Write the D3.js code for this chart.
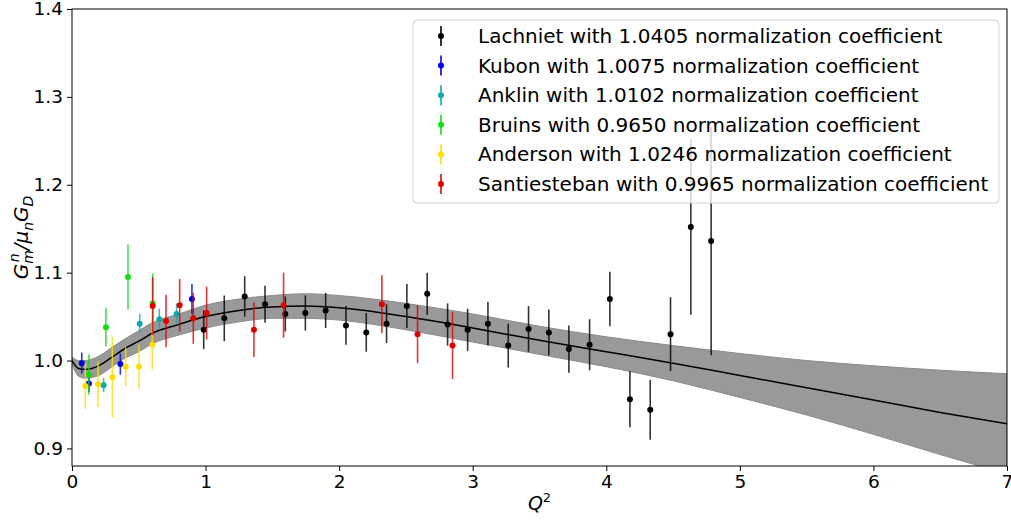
<!DOCTYPE html>
<html lang="en">
<head>
<meta charset="UTF-8">
<title>Gmn / mu_n G_D vs Q2</title>
<script src="https://d3js.org/d3.v7.min.js"></script>
<style>
  body { margin: 0; background: #fff; font-family: "DejaVu Sans", sans-serif; }
  svg text { font-family: "DejaVu Sans", sans-serif; }
</style>
</head>
<body>
<div id="chart"></div>
<script>
// --- data ---
const lachQ = [0.986, 1.14, 1.293, 1.445, 1.597, 1.747, 1.899, 2.051, 2.203, 2.355, 2.507, 2.659, 2.812,
               2.962, 3.114, 3.266, 3.418, 3.570, 3.720, 3.875, 4.027, 4.177, 4.329, 4.481, 4.633, 4.785];
const lachV = [1.035, 1.048, 1.073, 1.064, 1.053, 1.054, 1.057, 1.040, 1.032, 1.042, 1.062, 1.076, 1.041,
               1.035, 1.042, 1.017, 1.036, 1.032, 1.013, 1.018, 1.070, 0.956, 0.944, 1.030, 1.152, 1.136];
const lachE = [0.022, 0.026, 0.023, 0.021, 0.020, 0.020, 0.020, 0.022, 0.022, 0.022, 0.025, 0.024, 0.024,
               0.024, 0.025, 0.025, 0.026, 0.026, 0.027, 0.029, 0.031, 0.032, 0.034, 0.042, 0.100, 0.130];

const kubQ = [0.073, 0.127, 0.362, 0.898];
const kubV = [0.997, 0.974, 0.996, 1.070];
const kubE = [0.012, 0.010, 0.012, 0.017];

const ankQ = [0.237, 0.507, 0.654, 0.783];
const ankV = [0.972, 1.042, 1.047, 1.053];
const ankE = [0.008, 0.011, 0.012, 0.012];

const bruQ = [0.127, 0.254, 0.419, 0.604];
const bruV = [0.984, 1.038, 1.095, 1.065];
const bruE = [0.023, 0.022, 0.037, 0.034];

const andQ = [0.100, 0.195, 0.302, 0.402, 0.502, 0.601];
const andV = [0.971, 0.973, 0.981, 0.993, 0.993, 1.018];
const andE = [0.026, 0.026, 0.046, 0.022, 0.025, 0.028];

const sanQ = [0.604, 0.704, 0.806, 0.908, 1.008, 1.362, 1.584, 2.320, 2.587, 2.849];
const sanV = [1.062, 1.045, 1.063, 1.048, 1.054, 1.035, 1.063, 1.064, 1.030, 1.017];
const sanE = [0.033, 0.030, 0.030, 0.029, 0.030, 0.031, 0.037, 0.033, 0.033, 0.038];

// fitted curve and its band half-width
const fitQ = [0, 0.05, 0.1, 0.2, 0.3, 0.4, 0.5, 0.6, 0.8, 1.0, 1.25, 1.5, 1.75, 2.0, 2.5, 3.0, 3.5, 4.0, 4.5, 5.0, 5.5, 6.0, 6.5, 7.0];
const fitV = [1.000, 0.991, 0.990, 0.994, 1.004, 1.014, 1.022, 1.031, 1.041, 1.050, 1.057, 1.061, 1.062, 1.060,
              1.050, 1.037, 1.023, 1.010, 0.997, 0.983, 0.969, 0.955, 0.941, 0.928];
const fitE = [0.004, 0.009, 0.010, 0.011, 0.011, 0.011, 0.012, 0.012, 0.012, 0.013, 0.013, 0.013, 0.014, 0.014,
              0.015, 0.016, 0.016, 0.017, 0.020, 0.025, 0.031, 0.039, 0.048, 0.057];

const xTicks = [0, 1, 2, 3, 4, 5, 6, 7];
const yTicks = [0.9, 1.0, 1.1, 1.2, 1.3, 1.4];

const series = [
  { name: "Lachniet with 1.0405 normalization coefficient", color: "#000000", q: lachQ, v: lachV, e: lachE },
  { name: "Kubon with 1.0075 normalization coefficient", color: "#0000dd", q: kubQ, v: kubV, e: kubE },
  { name: "Anklin with 1.0102 normalization coefficient", color: "#10aaaa", q: ankQ, v: ankV, e: ankE },
  { name: "Bruins with 0.9650 normalization coefficient", color: "#11dd11", q: bruQ, v: bruV, e: bruE },
  { name: "Anderson with 1.0246 normalization coefficient", color: "#ffdd00", q: andQ, v: andV, e: andE },
  { name: "Santiesteban with 0.9965 normalization coefficient", color: "#e00000", q: sanQ, v: sanV, e: sanE }
];

// --- layout ---
const W = 1011, H = 520;
const margin = { top: 9, right: 4, bottom: 54, left: 72 };
const width = W - margin.left - margin.right;
const height = H - margin.top - margin.bottom;

const svg = d3.select("#chart").append("svg")
    .attr("width", W).attr("height", H);
const g = svg.append("g").attr("transform", `translate(${margin.left},${margin.top})`);

const x = d3.scaleLinear().domain([0, 7]).range([0, width]);
const y = d3.scaleLinear().domain([0.88, 1.4]).range([height, 0]);

g.append("clipPath").attr("id", "clip")
  .append("rect").attr("width", width).attr("height", height);

// band + fit line
const fit = fitQ.map((q, i) => ({ q, v: fitV[i], e: fitE[i] }));
const plot = g.append("g").attr("clip-path", "url(#clip)");

plot.append("path").datum(fit)
    .attr("fill", "#999999")
    .attr("stroke", "#8a8a8a")
    .attr("stroke-width", 1)
    .attr("d", d3.area().curve(d3.curveMonotoneX)
        .x(d => x(d.q)).y0(d => y(d.v - d.e)).y1(d => y(d.v + d.e)));

plot.append("path").datum(fit)
    .attr("fill", "none")
    .attr("stroke", "#000")
    .attr("stroke-width", 1.5)
    .attr("d", d3.line().curve(d3.curveMonotoneX).x(d => x(d.q)).y(d => y(d.v)));

// error bar points
series.forEach(s => {
  const pts = s.q.map((q, i) => ({ q, v: s.v[i], e: s.e[i] }));
  const sg = plot.append("g");
  sg.selectAll("line").data(pts).join("line")
    .attr("x1", d => x(d.q)).attr("x2", d => x(d.q))
    .attr("y1", d => y(d.v - d.e)).attr("y2", d => y(d.v + d.e))
    .attr("stroke", s.color).attr("stroke-opacity", 0.8).attr("stroke-width", 1.6);
  sg.selectAll("circle").data(pts).join("circle")
    .attr("cx", d => x(d.q)).attr("cy", d => y(d.v)).attr("r", 3)
    .attr("fill", s.color);
});

// axes
const xAxis = g.append("g").attr("transform", `translate(0,${height})`)
    .call(d3.axisBottom(x).tickValues(xTicks).tickFormat(d3.format("d")).tickSize(5).tickPadding(4));
const yAxis = g.append("g")
    .call(d3.axisLeft(y).tickValues(yTicks).tickFormat(d3.format(".1f")).tickSize(5).tickPadding(4));
[xAxis, yAxis].forEach(a => {
  a.selectAll("text").style("font-size", "18.5px").attr("fill", "#000");
  a.selectAll("line").attr("stroke", "#000");
  a.select(".domain").remove();
});

// frame
g.append("rect").attr("width", width).attr("height", height)
  .attr("fill", "none").attr("stroke", "#000").attr("stroke-width", 1);

// axis labels
svg.append("text")
  .attr("x", margin.left + width / 2).attr("y", 510)
  .attr("text-anchor", "middle").style("font-size", "19px").style("font-style", "italic")
  .html('Q<tspan dy="-8" font-size="13px" font-style="normal">2</tspan>');

const yl = svg.append("text")
  .attr("transform", `translate(28,${margin.top + height / 2}) rotate(-90)`)
  .attr("text-anchor", "middle").style("font-size", "20px").style("font-style", "italic");
yl.append("tspan").text("G");
yl.append("tspan").attr("dy", 5).attr("font-size", "14px").text("m");
yl.append("tspan").attr("dy", -14).attr("dx", -12).attr("font-size", "14px").text("n");
yl.append("tspan").attr("dy", 9).attr("dx", 3).text("/μ");
yl.append("tspan").attr("dy", 5).attr("font-size", "14px").text("n");
yl.append("tspan").attr("dy", -5).text("G");
yl.append("tspan").attr("dy", 5).attr("font-size", "14px").text("D");

// legend
const leg = svg.append("g");
leg.append("rect").attr("x", 413).attr("y", 20).attr("width", 586).attr("height", 183)
  .attr("rx", 4).attr("fill", "#fff").attr("fill-opacity", 0.8)
  .attr("stroke", "#d0d0d0").attr("stroke-width", 1);
series.forEach((s, i) => {
  const cy = 36 + i * 29.6;
  leg.append("line").attr("x1", 441).attr("x2", 441).attr("y1", cy - 10).attr("y2", cy + 10)
    .attr("stroke", s.color).attr("stroke-width", 1.6);
  leg.append("circle").attr("cx", 441).attr("cy", cy).attr("r", 3).attr("fill", s.color);
  leg.append("text").attr("x", 478).attr("y", cy).attr("dy", "0.35em")
    .style("font-size", "20px").attr("fill", "#000").text(s.name);
});
</script>
</body>
</html>
